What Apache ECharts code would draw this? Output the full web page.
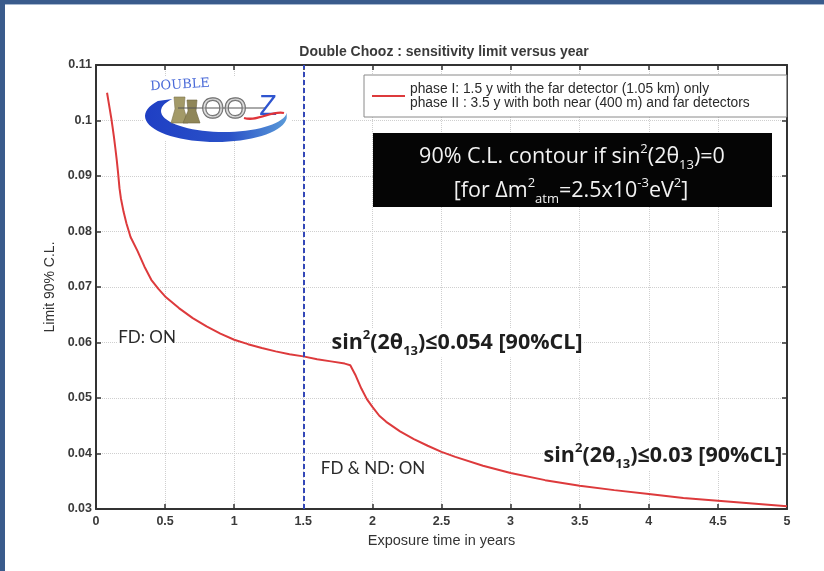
<!DOCTYPE html>
<html>
<head>
<meta charset="utf-8">
<script src="https://cdn.jsdelivr.net/npm/echarts@6/dist/echarts.min.js"></script>
<style>
  html, body { margin: 0; padding: 0; background: #fff; }
  #chart { width: 824px; height: 571px; }
</style>
</head>
<body>
<div id="chart"></div>
<script>
// Exposure time (years) and the 90% C.L. sensitivity limit on sin^2(2θ13)
const years = [0.08, 0.09, 0.10, 0.11, 0.12, 0.13, 0.14, 0.15, 0.16, 0.17, 0.18, 0.20, 0.22, 0.25,
  0.30, 0.35, 0.40, 0.45, 0.50, 0.60, 0.70, 0.80, 0.90, 1.00, 1.10, 1.20, 1.30, 1.40, 1.50,
  1.60, 1.70, 1.80, 1.84, 1.88, 1.92, 1.96, 2.00, 2.05, 2.10, 2.20, 2.30, 2.40, 2.50, 2.60,
  2.80, 3.00, 3.25, 3.50, 3.75, 4.00, 4.25, 4.50, 4.75, 5.00];
const limitCL = [0.1050, 0.1035, 0.1020, 0.1005, 0.0988, 0.0970, 0.0950, 0.0929, 0.0905, 0.0878,
  0.0860, 0.0835, 0.0815, 0.0790, 0.0765, 0.0737, 0.0713, 0.0697, 0.0683, 0.0662, 0.0644,
  0.0629, 0.0616, 0.0605, 0.0597, 0.0590, 0.0584, 0.0579, 0.0575, 0.0570, 0.0566, 0.0562,
  0.0559, 0.0540, 0.0517, 0.0498, 0.0484, 0.0468, 0.0457, 0.0440, 0.0426, 0.0414, 0.0403,
  0.0394, 0.0378, 0.0365, 0.0352, 0.0342, 0.0334, 0.0327, 0.0320, 0.0315, 0.0310, 0.0305];

// Start of the two-detector phase
const phaseSwitch = [1.5];

const seriesName = 'phase I: 1.5 y with the far detector (1.05 km) only\nphase II : 3.5 y with both near (400 m) and far detectors';
const chartTitle = 'Double Chooz : sensitivity limit versus year';
const xName = 'Exposure time in years';
const yName = 'Limit 90% C.L.';

const xRange = { min: 0, max: 5, step: 0.5 };
const yRange = { min: 0.03, max: 0.11, step: 0.01 };

const chart = echarts.init(document.getElementById('chart'), null, { renderer: 'canvas' });

const axisColor = '#333';
const tickFont = { fontFamily: 'Liberation Sans', fontSize: 12.5, fontWeight: 'bold', color: '#3a3a3a' };
const labelFont = 'Lato';
const mathFont = 'Open Sans';

// Double Chooz emblem: blue swoosh, cooling towers and lettering
function swooshPoints() {
  const pts = [];
  const outer = { cx: 216, cy: 116, rx: 71, ry: 26 };
  const inner = { cx: 224, cy: 111, rx: 63, ry: 21 };
  const a0 = 215, a1 = 5;
  for (let a = a0; a >= a1; a -= 5) {
    const r = a * Math.PI / 180;
    pts.push([outer.cx + outer.rx * Math.cos(r), outer.cy + outer.ry * Math.sin(r)]);
  }
  for (let a = a1; a <= a0; a += 5) {
    const r = a * Math.PI / 180;
    pts.push([inner.cx + inner.rx * Math.cos(r), inner.cy + inner.ry * Math.sin(r)]);
  }
  return pts;
}

// rich-text styles with superscript / subscript tokens
function richSet(size, small, fill, weight) {
  const base = { fontFamily: mathFont, fill: fill, fontWeight: weight };
  return {
    m: Object.assign({ fontSize: size, lineHeight: 29 }, base),
    sup: Object.assign({ fontSize: small, lineHeight: 16, verticalAlign: 'top' }, base),
    sub: Object.assign({ fontSize: small, lineHeight: 16, verticalAlign: 'bottom' }, base)
  };
}

const graphics = [
  // frame
  { type: 'rect', z: 200, shape: { x: 0, y: 0, width: 824, height: 4 }, style: { fill: '#3a5b8c' } },
  { type: 'rect', z: 200, shape: { x: 0, y: 4, width: 824, height: 1 }, style: { fill: '#a7b8d0' } },
  { type: 'rect', z: 200, shape: { x: 0, y: 0, width: 5, height: 571 }, style: { fill: '#3a5b8c' } },
  // title
  { type: 'text', z: 100, x: 444, y: 52, style: { text: chartTitle, align: 'center', verticalAlign: 'middle',
      fontFamily: 'Liberation Sans', fontSize: 14, fontWeight: 'bold', fill: '#3a3a3a' } },
  // emblem
  { type: 'rect', z: 50, shape: { x: 143, y: 77, width: 148, height: 64 }, style: { fill: '#fff' } },
  { type: 'polygon', z: 51, shape: { points: swooshPoints() },
    style: { fill: new echarts.graphic.LinearGradient(0, 0, 1, 0, [
      { offset: 0, color: '#1f3fc4' }, { offset: 0.6, color: '#2a52c8' }, { offset: 1, color: '#5a9ad8' }]) } },
  { type: 'text', z: 52, x: 180, y: 85, rotation: 0.06, style: { text: 'DOUBLE', align: 'center', verticalAlign: 'middle',
      fontFamily: 'DejaVu Serif', fontSize: 13, fill: '#4a6ad8' } },
  { type: 'polygon', z: 52, shape: { points: [[171, 123], [175, 109], [174, 97], [185, 97], [184, 109], [188, 123]] },
    style: { fill: '#a39a68', stroke: '#7d744c', lineWidth: 0.6 } },
  { type: 'polygon', z: 52, shape: { points: [[183, 123], [188, 111], [187, 100], [197, 100], [196, 111], [200, 123]] },
    style: { fill: '#8f8658', stroke: '#6e6642', lineWidth: 0.6 } },
  { type: 'line', z: 53, shape: { x1: 178, y1: 108, x2: 266, y2: 108 }, style: { stroke: '#555', lineWidth: 1 } },
  { type: 'text', z: 53, x: 224, y: 110, style: { text: 'OO', align: 'center', verticalAlign: 'middle',
      fontFamily: 'Liberation Sans', fontSize: 29, fill: 'rgba(200,200,200,0.5)', stroke: '#666', lineWidth: 1.4 } },
  { type: 'text', z: 53, x: 268, y: 107, style: { text: 'Z', align: 'center', verticalAlign: 'middle',
      fontFamily: 'Liberation Sans', fontSize: 29, fill: '#2f55cf' } },
  { type: 'bezierCurve', z: 54, shape: { x1: 244, y1: 118, x2: 284, y2: 113, cpx1: 258, cpy1: 122, cpx2: 272, cpy2: 110 },
    style: { stroke: '#e0353a', lineWidth: 2.2, fill: null } },
  // C.L. contour box
  { type: 'rect', z: 60, shape: { x: 373, y: 133, width: 399, height: 74 }, style: { fill: '#050505' } },
  { type: 'text', z: 61, x: 572, y: 157, style: { align: 'center', verticalAlign: 'middle',
      text: '{m|90% C.L. contour if sin}{sup|2}{m|(2θ}{sub|13}{m|)=0}', rich: richSet(21.5, 13, '#f2f2f2', 'normal') } },
  { type: 'text', z: 61, x: 571, y: 191, style: { align: 'center', verticalAlign: 'middle',
      text: '{m|[for Δm}{sup|2}{sub|atm}{m|=2.5x10}{sup|-3}{m|eV}{sup|2}{m|]}', rich: richSet(21.5, 13, '#f2f2f2', 'normal') } },
  // phase annotations
  { type: 'text', z: 60, x: 147, y: 338, style: { align: 'center', verticalAlign: 'middle', text: 'FD: ON',
      fontFamily: labelFont, fontSize: 17, fill: '#2a2a2a', backgroundColor: '#fff' } },
  { type: 'text', z: 60, x: 373, y: 469, style: { align: 'center', verticalAlign: 'middle', text: 'FD & ND: ON',
      fontFamily: labelFont, fontSize: 17, fill: '#2a2a2a', backgroundColor: '#fff' } },
  { type: 'text', z: 60, x: 457, y: 343, style: { align: 'center', verticalAlign: 'middle', backgroundColor: '#fff',
      text: '{m|sin}{sup|2}{m|(2θ}{sub|13}{m|)≤0.054 [90%CL]}', rich: richSet(21.5, 13, '#1e1e1e', 'bold') } },
  { type: 'text', z: 60, x: 663, y: 456, style: { align: 'center', verticalAlign: 'middle', backgroundColor: '#fff',
      text: '{m|sin}{sup|2}{m|(2θ}{sub|13}{m|)≤0.03 [90%CL]}', rich: richSet(21.5, 13, '#1e1e1e', 'bold') } }
];

const option = {
  animation: false,
  backgroundColor: '#fff',
  grid: { left: 96, right: 37, top: 65, bottom: 62, containLabel: false },
  legend: {
    left: 364, top: 75,
    padding: [7, 37, 7, 8],
    backgroundColor: '#fff',
    borderColor: '#8a8a8a', borderWidth: 1,
    itemWidth: 33, itemHeight: 2,
    icon: 'rect',
    z: 70,
    textStyle: { fontFamily: 'Liberation Sans', fontSize: 13.8, lineHeight: 14, color: '#2a2a2a' },
    data: [seriesName]
  },
  xAxis: [
    {
      type: 'value', min: xRange.min, max: xRange.max, interval: xRange.step, position: 'bottom',
      name: xName, nameLocation: 'middle', nameGap: 24,
      nameTextStyle: { fontFamily: 'Liberation Sans', fontSize: 14.5, color: '#333' },
      axisLine: { onZero: false, lineStyle: { color: axisColor, width: 2 } },
      axisTick: { inside: true, length: 5, lineStyle: { color: axisColor, width: 1.5 } },
      axisLabel: Object.assign({ margin: 6 }, tickFont),
      splitLine: { show: true, lineStyle: { color: '#cfcfcf', type: 'dotted', width: 1 } }
    },
    {
      type: 'value', min: xRange.min, max: xRange.max, interval: xRange.step, position: 'top',
      axisLine: { onZero: false, lineStyle: { color: axisColor, width: 2 } },
      axisTick: { inside: true, length: 5, lineStyle: { color: axisColor, width: 1.5 } },
      axisLabel: { show: false }, splitLine: { show: false }
    }
  ],
  yAxis: [
    {
      type: 'value', min: yRange.min, max: yRange.max, interval: yRange.step, position: 'left',
      name: yName, nameLocation: 'middle', nameGap: 34, nameRotate: 90,
      nameTextStyle: { fontFamily: 'Liberation Sans', fontSize: 14, color: '#333' },
      axisLine: { onZero: false, lineStyle: { color: axisColor, width: 2 } },
      axisTick: { inside: true, length: 5, lineStyle: { color: axisColor, width: 1.5 } },
      axisLabel: Object.assign({ margin: 4, formatter: v => String(+v.toFixed(2)) }, tickFont),
      splitLine: { show: true, lineStyle: { color: '#cfcfcf', type: 'dotted', width: 1 } }
    },
    {
      type: 'value', min: yRange.min, max: yRange.max, interval: yRange.step, position: 'right',
      axisLine: { onZero: false, lineStyle: { color: axisColor, width: 2 } },
      axisTick: { inside: true, length: 5, lineStyle: { color: axisColor, width: 1.5 } },
      axisLabel: { show: false }, splitLine: { show: false }
    }
  ],
  series: [
    {
      name: seriesName,
      type: 'line',
      xAxisIndex: 0, yAxisIndex: 0,
      data: years.map((t, i) => [t, limitCL[i]]),
      showSymbol: false, symbol: 'none',
      smooth: false,
      color: '#dd3a3c',
      lineStyle: { color: '#dd3a3c', width: 2 },
      z: 3,
      markLine: {
        silent: true,
        symbol: ['none', 'none'],
        label: { show: false },
        lineStyle: { type: [5, 3], color: '#3448b8', width: 2 },
        data: phaseSwitch.map(v => ({ xAxis: v }))
      }
    }
  ],
  graphic: { elements: graphics }
};

chart.setOption(option);
</script>
</body>
</html>
